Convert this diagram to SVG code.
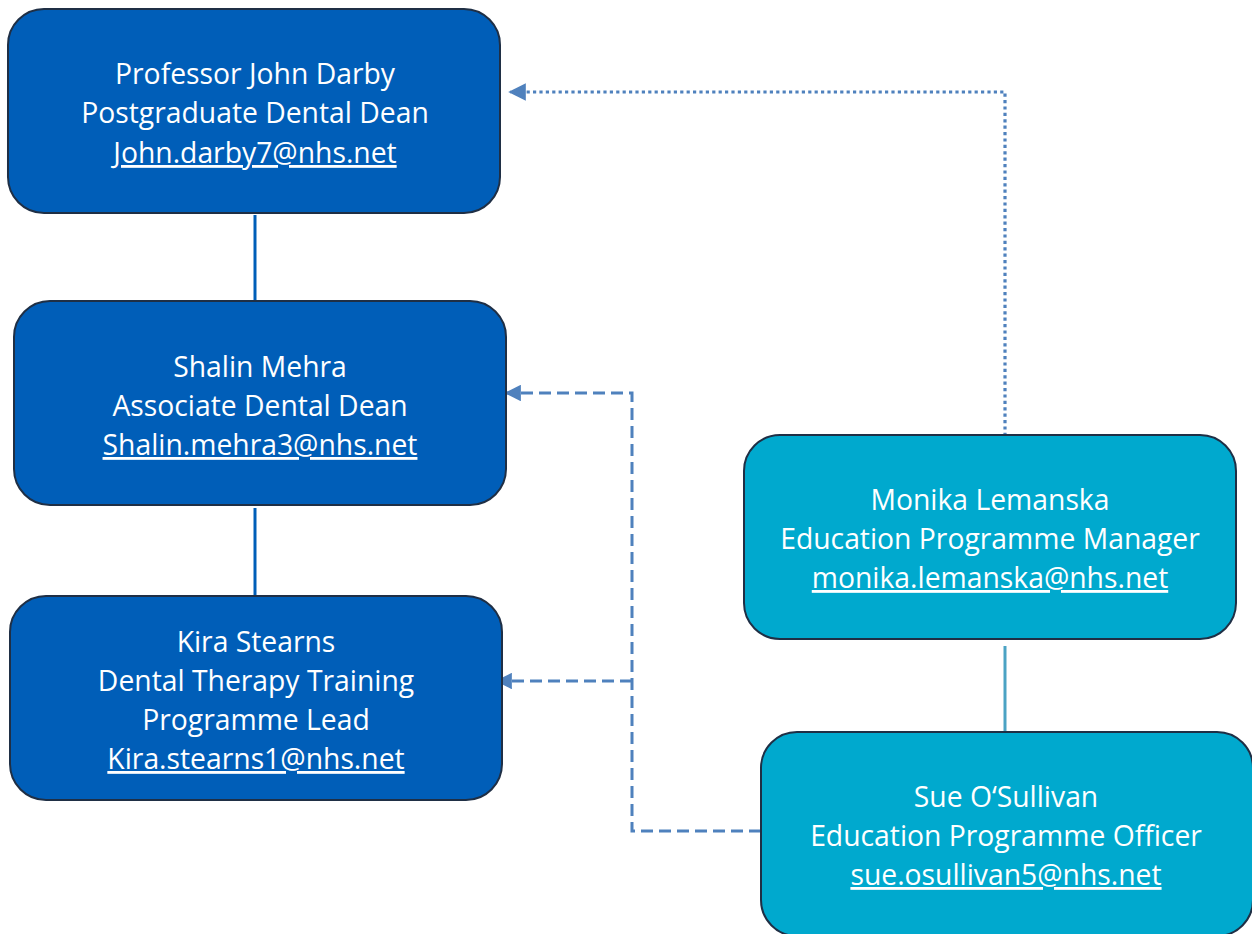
<svg xmlns="http://www.w3.org/2000/svg" width="1252" height="934" viewBox="0 0 1252 934">
<style>
.box{stroke:#1F2F45;stroke-width:2}
.dark{fill:#005EB8}
.teal{fill:#00A9CE}
text{font-family:"Open Sans","Noto Sans","DejaVu Sans",sans-serif;font-size:28.3px;fill:#FFFFFF;text-anchor:middle}
.mail{text-decoration:underline}
.solid{fill:none;stroke:#005EB8;stroke-width:3}
.solid2{fill:none;stroke:#4BA3C4;stroke-width:3}
.dash{fill:none;stroke:#4F81BD;stroke-width:3;stroke-dasharray:12 6}
.dot{fill:none;stroke:#4F81BD;stroke-width:3.2;stroke-dasharray:3.2 3.2}
</style>
<defs>
<marker id="arr" viewBox="0 0 10 10" refX="9" refY="5" markerWidth="5.5" markerHeight="5.5" orient="auto" markerUnits="strokeWidth">
<path d="M0,0 L10,5 L0,10 z" fill="#4F81BD"/>
</marker>
</defs>
<g id="connectors">
<line class="solid" x1="255" y1="215" x2="255" y2="301"/>
<line class="solid" x1="255" y1="508" x2="255" y2="596"/>
<line class="solid2" x1="1005" y1="646" x2="1005" y2="732"/>
<path class="dot" d="M1005,436 L1005,92 L510,92" marker-end="url(#arr)"/>
<path class="dash" d="M761,831 L632,831 L632,393 L506,393" marker-end="url(#arr)"/>
<path class="dash" d="M632,681 L497,681" marker-end="url(#arr)"/>
</g>
<g id="node-darby">
<rect class="box dark" x="8" y="9" width="492" height="204" rx="36"/>
<text x="255" y="84">Professor John Darby</text>
<text x="255" y="123">Postgraduate Dental Dean</text>
<text x="255" y="163" class="mail">John.darby7@nhs.net</text>
</g>
<g id="node-mehra">
<rect class="box dark" x="14" y="301" width="492" height="204" rx="36"/>
<text x="260" y="377">Shalin Mehra</text>
<text x="260" y="416">Associate Dental Dean</text>
<text x="260" y="455" class="mail">Shalin.mehra3@nhs.net</text>
</g>
<g id="node-stearns">
<rect class="box dark" x="10" y="596" width="492" height="204" rx="36"/>
<text x="256" y="652">Kira Stearns</text>
<text x="256" y="691">Dental Therapy Training</text>
<text x="256" y="730">Programme Lead</text>
<text x="256" y="769" class="mail">Kira.stearns1@nhs.net</text>
</g>
<g id="node-lemanska">
<rect class="box teal" x="744" y="435" width="492" height="204" rx="36"/>
<text x="990" y="510">Monika Lemanska</text>
<text x="990" y="549">Education Programme Manager</text>
<text x="990" y="588" class="mail">monika.lemanska@nhs.net</text>
</g>
<g id="node-osullivan">
<rect class="box teal" x="761" y="732" width="492" height="204" rx="36"/>
<text x="1006" y="807">Sue O‘Sullivan</text>
<text x="1006" y="846">Education Programme Officer</text>
<text x="1006" y="885" class="mail">sue.osullivan5@nhs.net</text>
</g>
</svg>
